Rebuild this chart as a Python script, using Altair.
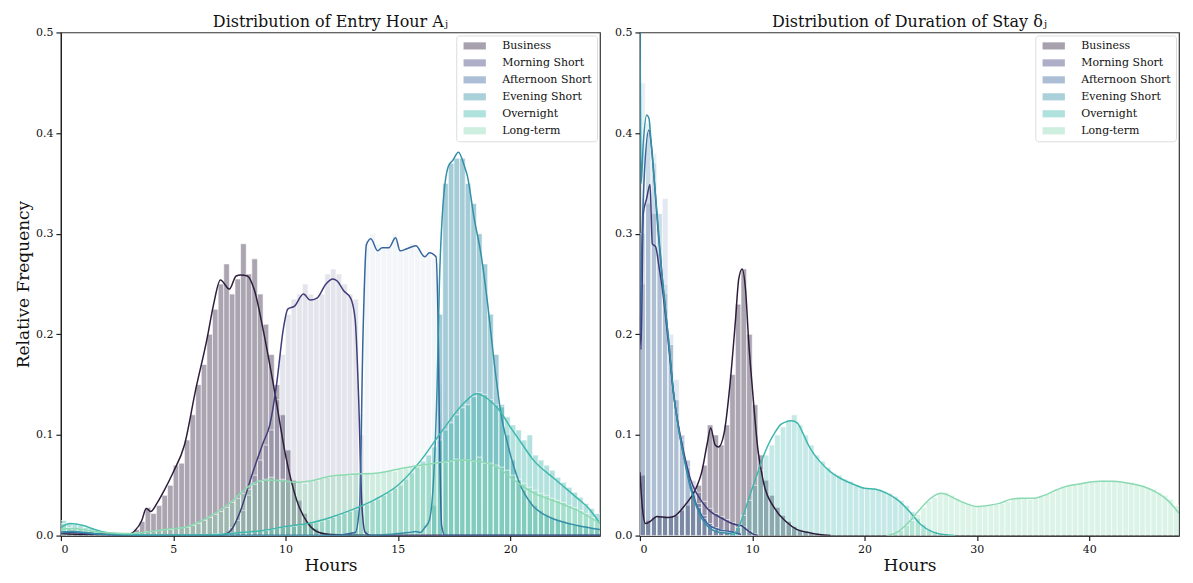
import altair as alt
import pandas as pd

CATS = ["Business", "Morning Short", "Afternoon Short", "Evening Short", "Overnight", "Long-term"]
COLORS = ["#2e1e3b", "#413d7b", "#37659e", "#348fa7", "#40b7ad", "#8bdab2"]
FONT = "DejaVu Serif"

# ---------------- Entry hour: histogram bars (bin width 0.25 h) ----------------
entry_bin = 0.25
entry_bar_start = {"Business": 3.0, "Morning Short": 7.25, "Afternoon Short": 13.25,
                   "Evening Short": 16.5, "Overnight": 0.0, "Long-term": 0.0}
entry_business_bars = [0.002, 0.006, 0.014, 0.028, 0.022, 0.030, 0.040, 0.050, 0.070, 0.072, 0.095, 0.120,
                       0.150, 0.170, 0.200, 0.225, 0.250, 0.270, 0.240, 0.255, 0.290, 0.260, 0.275, 0.240,
                       0.210, 0.180, 0.150, 0.120, 0.085, 0.055, 0.035, 0.022, 0.013, 0.007, 0.003, 0.001]
entry_morning_bars = [0.002, 0.008, 0.015, 0.025, 0.040, 0.060, 0.075, 0.090, 0.105, 0.135, 0.180, 0.220,
                      0.235, 0.240, 0.250, 0.240, 0.235, 0.240, 0.260, 0.265, 0.260, 0.250, 0.240, 0.235,
                      0.100, 0.005]
entry_afternoon_bars = [0.120, 0.290, 0.300, 0.290, 0.285, 0.290, 0.300, 0.285, 0.285, 0.290, 0.285, 0.280,
                        0.280, 0.275, 0.150]
entry_evening_bars = [0.030, 0.220, 0.350, 0.370, 0.375, 0.375, 0.350, 0.330, 0.300, 0.270, 0.220, 0.180,
                      0.130, 0.100, 0.075, 0.055, 0.045, 0.035, 0.030, 0.025, 0.021, 0.018, 0.016, 0.014,
                      0.012, 0.011, 0.010, 0.009, 0.008, 0.007]
entry_overnight_bars = [0.015, 0.012, 0.011, 0.010, 0.008, 0.007, 0.005, 0.004,
                        0.003, 0.002, 0.002, 0.001, 0.001, 0.001, 0.001, 0.001,
                        0.001, 0.001, 0.001, 0.001, 0.001, 0.001, 0.001, 0.001,
                        0.001, 0.001, 0.001, 0.002, 0.002, 0.002, 0.003, 0.003,
                        0.003, 0.004, 0.004, 0.005, 0.005, 0.006, 0.007, 0.008,
                        0.009, 0.009, 0.010, 0.011, 0.012, 0.013, 0.014, 0.016,
                        0.018, 0.020, 0.022, 0.024, 0.026, 0.028, 0.031, 0.034,
                        0.036, 0.040, 0.043, 0.047, 0.050, 0.056, 0.062, 0.068,
                        0.074, 0.080, 0.088, 0.095, 0.105, 0.112, 0.120, 0.127,
                        0.130, 0.138, 0.142, 0.140, 0.135, 0.130, 0.128, 0.118,
                        0.110, 0.105, 0.095, 0.100, 0.080, 0.075, 0.070, 0.065,
                        0.058, 0.053, 0.048, 0.043, 0.038, 0.032, 0.027, 0.022]
entry_longterm_bars = [0.012, 0.008, 0.007, 0.007, 0.006, 0.005, 0.004, 0.004,
                       0.003, 0.003, 0.002, 0.002, 0.002, 0.003, 0.003, 0.004,
                       0.004, 0.005, 0.006, 0.006, 0.007, 0.008, 0.008, 0.010,
                       0.012, 0.015, 0.018, 0.021, 0.024, 0.028, 0.033, 0.037,
                       0.042, 0.046, 0.051, 0.054, 0.056, 0.058, 0.055, 0.056,
                       0.054, 0.053, 0.053, 0.052, 0.054, 0.055, 0.057, 0.058,
                       0.059, 0.060, 0.061, 0.060, 0.062, 0.061, 0.063, 0.062,
                       0.062, 0.064, 0.065, 0.064, 0.066, 0.067, 0.068, 0.069,
                       0.070, 0.071, 0.072, 0.073, 0.073, 0.074, 0.076, 0.075,
                       0.075, 0.074, 0.078, 0.072, 0.072, 0.070, 0.068, 0.065,
                       0.060, 0.056, 0.052, 0.048, 0.045, 0.042, 0.040, 0.037,
                       0.035, 0.033, 0.030, 0.028, 0.025, 0.022, 0.018, 0.014]

# ---------------- Entry hour: KDE curves ----------------
entry_business_kx = [0, 1, 2, 3.0, 3.3, 3.6, 3.8, 4.0, 4.3, 4.6, 5.0, 5.5, 6.0, 6.5, 6.8, 7.1, 7.5, 7.8,
                     8.0, 8.3, 8.6, 9.0, 9.5, 10.0, 10.5, 11.0, 11.5, 12, 14, 18, 24]
entry_business_ky = [0.002, 0.001, 0.001, 0.001, 0.005, 0.015, 0.027, 0.024, 0.033, 0.045, 0.063, 0.090,
                     0.145, 0.195, 0.230, 0.254, 0.245, 0.258, 0.259, 0.258, 0.245, 0.205, 0.145, 0.080,
                     0.035, 0.012, 0.003, 0.001, 0, 0, 0]
entry_morning_kx = [0, 0.5, 1, 2, 4, 7.0, 7.3, 7.6, 8.0, 8.5, 9.0, 9.3, 9.6, 9.9, 10.1, 10.4, 10.8, 11.1,
                    11.4, 11.8, 12.1, 12.3, 12.6, 12.9, 13.1, 13.25, 13.4, 13.55, 13.8, 16, 20, 24]
entry_morning_ky = [0.002, 0.003, 0.002, 0.001, 0, 0, 0.001, 0.006, 0.025, 0.060, 0.092, 0.110, 0.150,
                    0.205, 0.225, 0.228, 0.240, 0.234, 0.236, 0.250, 0.255, 0.253, 0.243, 0.236, 0.215,
                    0.140, 0.030, 0.003, 0, 0, 0, 0]
entry_afternoon_kx = [0, 0.5, 1, 2, 3, 12, 13.1, 13.3, 13.45, 13.6, 13.8, 14.1, 14.3, 14.6, 14.9, 15.1,
                      15.4, 15.8, 16.2, 16.4, 16.7, 16.8, 16.87, 16.95, 17.1, 20, 24]
entry_afternoon_ky = [0.003, 0.004, 0.003, 0.001, 0, 0, 0.003, 0.030, 0.200, 0.289, 0.295, 0.283, 0.286,
                      0.286, 0.296, 0.283, 0.285, 0.288, 0.277, 0.281, 0.277, 0.200, 0.080, 0.010, 0, 0, 0]
entry_evening_kx = [0, 0.5, 1, 2, 4, 13.5, 14.5, 15, 15.5, 15.8, 16.0, 16.2, 16.4, 16.6, 16.75, 16.85,
                    17.0, 17.25, 17.45, 17.7, 17.95, 18.1, 18.4, 18.7, 19.0, 19.3, 19.6, 19.9, 20.4, 21.0,
                    21.5, 22.0, 23.0, 24.0]
entry_evening_ky = [0.003, 0.004, 0.003, 0.001, 0, 0, 0.001, 0.002, 0.003, 0.004, 0.003, 0.008, 0.015,
                    0.060, 0.150, 0.250, 0.325, 0.367, 0.373, 0.381, 0.368, 0.357, 0.315, 0.280, 0.230,
                    0.170, 0.120, 0.090, 0.053, 0.030, 0.021, 0.016, 0.010, 0.006]
entry_overnight_kx = [0, 0.4, 1, 1.5, 2, 3, 5, 7, 8, 9, 10, 11, 12, 13, 14, 15, 16, 17, 18, 18.5, 19,
                      19.5, 20, 20.5, 21, 22, 23, 23.5, 24]
entry_overnight_ky = [0.008, 0.012, 0.010, 0.006, 0.003, 0.001, 0.0005, 0.001, 0.003, 0.005, 0.009,
                      0.012, 0.018, 0.026, 0.036, 0.050, 0.074, 0.105, 0.133, 0.141, 0.136, 0.125, 0.108,
                      0.092, 0.076, 0.056, 0.037, 0.027, 0.012]
entry_longterm_kx = [0, 0.5, 1, 1.5, 2, 3, 4, 5, 5.5, 6, 7, 7.5, 8, 8.5, 9, 9.5, 10, 10.5, 11, 12, 13, 14,
                     15, 16, 17, 17.7, 18.5, 19, 19.5, 20, 20.5, 21, 22, 23, 24]
entry_longterm_ky = [0.006, 0.007, 0.006, 0.004, 0.003, 0.002, 0.004, 0.007, 0.008, 0.012, 0.024, 0.032,
                     0.042, 0.051, 0.055, 0.055, 0.054, 0.053, 0.054, 0.059, 0.061, 0.062, 0.066, 0.070,
                     0.073, 0.075, 0.074, 0.072, 0.067, 0.058, 0.050, 0.043, 0.034, 0.025, 0.012]

# ---------------- Duration of stay: histogram bars (bin width 0.5 h) ----------------
dur_bin = 0.5
dur_bar_start = {"Business": 0.0, "Morning Short": 0.0, "Afternoon Short": 0.0,
                 "Evening Short": 0.0, "Overnight": 8.0, "Long-term": 22.0}
dur_business_bars = [0.060, 0.015, 0.018, 0.019, 0.018, 0.019, 0.020, 0.025, 0.030, 0.040, 0.050, 0.070,
                     0.110, 0.100, 0.090, 0.110, 0.160, 0.230, 0.265, 0.200, 0.130, 0.080, 0.055, 0.040,
                     0.028, 0.020, 0.014, 0.009, 0.006, 0.004, 0.002, 0.001]
dur_morning_bars = [0.250, 0.330, 0.320, 0.280, 0.240, 0.190, 0.135, 0.100, 0.075, 0.055, 0.043, 0.034,
                    0.027, 0.022, 0.019, 0.016, 0.013, 0.011, 0.009, 0.005, 0.002]
dur_afternoon_bars = [0.300, 0.400, 0.370, 0.320, 0.335, 0.200, 0.155, 0.100, 0.075, 0.050, 0.032, 0.020,
                      0.012, 0.008, 0.006, 0.004, 0.003, 0.001]
dur_evening_bars = [0.450, 0.410, 0.380, 0.320, 0.250, 0.190, 0.135, 0.095, 0.068, 0.045, 0.028, 0.017,
                    0.010, 0.006, 0.004, 0.003, 0.002, 0.001]
dur_overnight_bars = [0.002, 0.008, 0.020, 0.035, 0.050, 0.065, 0.080, 0.090, 0.100, 0.108, 0.115, 0.120,
                      0.110, 0.100, 0.090, 0.080, 0.074, 0.068, 0.062, 0.060, 0.056, 0.054, 0.050, 0.048,
                      0.047, 0.047, 0.046, 0.044, 0.042, 0.039, 0.035, 0.030, 0.024, 0.017, 0.011, 0.006,
                      0.004, 0.002, 0.001, 0.0005]
dur_longterm_bars = [0.001, 0.003, 0.005, 0.010, 0.015, 0.021, 0.028, 0.034, 0.038, 0.042, 0.043, 0.040,
                     0.037, 0.034, 0.032, 0.030, 0.029, 0.029, 0.030, 0.031, 0.032, 0.034, 0.037, 0.038,
                     0.037, 0.036, 0.037, 0.039, 0.041, 0.043, 0.046, 0.049, 0.050, 0.051, 0.052, 0.053,
                     0.054, 0.054, 0.055, 0.054, 0.055, 0.054, 0.053, 0.053, 0.051, 0.050, 0.048, 0.046,
                     0.043, 0.040, 0.036, 0.030]

# ---------------- Duration of stay: KDE curves ----------------
dur_business_kx = [0, 0.2, 0.5, 0.9, 1.5, 2.5, 3.0, 4.0, 5.0, 5.5, 6.0, 6.3, 6.7, 7.0, 7.5, 8.0, 8.5, 8.8,
                   9.1, 9.4, 9.7, 10.0, 10.5, 11.0, 12.0, 13.0, 14.0, 15.0, 16.0, 17.0]
dur_business_ky = [0.063, 0.030, 0.012, 0.014, 0.019, 0.018, 0.019, 0.030, 0.047, 0.063, 0.092, 0.107,
                   0.090, 0.088, 0.102, 0.148, 0.213, 0.255, 0.265, 0.245, 0.190, 0.148, 0.086, 0.053,
                   0.027, 0.014, 0.006, 0.003, 0.001, 0]
dur_morning_kx = [0, 0.1, 0.3, 0.6, 0.9, 1.1, 1.4, 1.7, 2.0, 2.5, 3.0, 3.5, 4.0, 4.5, 5.0, 5.5, 6.0, 6.5,
                  7.0, 7.5, 8.0, 8.5, 9.0, 9.5, 10.0, 10.5]
dur_morning_ky = [0.220, 0.185, 0.320, 0.335, 0.349, 0.290, 0.287, 0.267, 0.245, 0.195, 0.140, 0.105,
                  0.078, 0.056, 0.043, 0.034, 0.027, 0.022, 0.019, 0.016, 0.013, 0.011, 0.010, 0.006,
                  0.002, 0]
dur_afternoon_kx = [0, 0.15, 0.4, 0.8, 1.0, 1.3, 1.6, 2.0, 2.5, 3.0, 3.5, 4.0, 4.5, 5.0, 5.5, 6.0, 7.0,
                    8.0, 9.0]
dur_afternoon_ky = [0.200, 0.280, 0.360, 0.403, 0.390, 0.350, 0.305, 0.255, 0.200, 0.142, 0.103, 0.075,
                    0.050, 0.032, 0.020, 0.012, 0.006, 0.004, 0.001]
dur_evening_kx = [0, 0.1, 0.3, 0.6, 0.8, 1.0, 1.3, 1.6, 2.0, 2.5, 3.0, 3.5, 4.0, 4.5, 5.0, 5.5, 6.2, 7.2,
                  8.0, 8.5]
dur_evening_ky = [0.550, 0.350, 0.390, 0.418, 0.415, 0.390, 0.350, 0.310, 0.255, 0.200, 0.141, 0.102,
                  0.073, 0.047, 0.030, 0.017, 0.0075, 0.003, 0.002, 0]
dur_overnight_kx = [8.0, 8.5, 9.0, 9.5, 10.0, 10.5, 11.0, 11.5, 12.0, 12.5, 13.0, 13.5, 14.0, 14.5, 15.0,
                    15.5, 16.0, 17.0, 18.0, 19.0, 20.0, 21.0, 22.0, 23.0, 24.0, 25.0, 26.0, 27.0, 28.0]
dur_overnight_ky = [0, 0.003, 0.014, 0.030, 0.047, 0.063, 0.079, 0.092, 0.102, 0.110, 0.113, 0.114, 0.112,
                    0.102, 0.090, 0.081, 0.074, 0.063, 0.056, 0.051, 0.047, 0.046, 0.042, 0.035, 0.024,
                    0.011, 0.004, 0.001, 0]
dur_longterm_kx = [22, 23, 24, 25, 26, 26.8, 27.5, 28, 29, 30, 31, 32, 33, 34, 35, 36, 37, 38, 39, 40, 41,
                   42, 43, 44, 45, 46, 47, 48]
dur_longterm_ky = [0, 0.004, 0.014, 0.027, 0.038, 0.042, 0.040, 0.037, 0.032, 0.029, 0.030, 0.032, 0.036,
                   0.037, 0.037, 0.040, 0.045, 0.049, 0.051, 0.053, 0.054, 0.054, 0.053, 0.051, 0.048,
                   0.043, 0.035, 0.022]

Y_TICKS = [0.0, 0.1, 0.2, 0.3, 0.4, 0.5]

# bar fill opacity per category (style)
ENTRY_OPACITY = {"Business": 0.4, "Morning Short": 0.14, "Afternoon Short": 0.06,
                 "Evening Short": 0.45, "Overnight": 0.4, "Long-term": 0.35}
DUR_OPACITY = {"Business": 0.4, "Morning Short": 0.2, "Afternoon Short": 0.15,
               "Evening Short": 0.12, "Overnight": 0.3, "Long-term": 0.3}


def bars_table(starts, width, series, opac):
    rows = []
    for cat, vals in zip(CATS, series):
        s0 = starts[cat]
        for i, v in enumerate(vals):
            rows.append({"cat": cat, "start": s0 + i * width, "end": s0 + (i + 1) * width,
                         "value": v, "op": opac[cat]})
    return pd.DataFrame(rows)


def kde_table(xs_list, ys_list):
    rows = []
    for cat, xs, ys in zip(CATS, xs_list, ys_list):
        for x, y in zip(xs, ys):
            rows.append({"cat": cat, "x": x, "y": y})
    return pd.DataFrame(rows)


entry_bars = bars_table(entry_bar_start, entry_bin,
                        [entry_business_bars, entry_morning_bars, entry_afternoon_bars,
                         entry_evening_bars, entry_overnight_bars, entry_longterm_bars], ENTRY_OPACITY)
entry_kde = kde_table(
    [entry_business_kx, entry_morning_kx, entry_afternoon_kx, entry_evening_kx, entry_overnight_kx,
     entry_longterm_kx],
    [entry_business_ky, entry_morning_ky, entry_afternoon_ky, entry_evening_ky, entry_overnight_ky,
     entry_longterm_ky])
dur_bars = bars_table(dur_bar_start, dur_bin,
                      [dur_business_bars, dur_morning_bars, dur_afternoon_bars, dur_evening_bars,
                       dur_overnight_bars, dur_longterm_bars], DUR_OPACITY)
dur_kde = kde_table(
    [dur_business_kx, dur_morning_kx, dur_afternoon_kx, dur_evening_kx, dur_overnight_kx, dur_longterm_kx],
    [dur_business_ky, dur_morning_ky, dur_afternoon_ky, dur_evening_ky, dur_overnight_ky, dur_longterm_ky])


def panel(bars_df, kde_df, xmax, xticks, title, ytitle, W, H):
    xscale = alt.Scale(domain=[0, xmax], nice=False, zero=False)
    yscale = alt.Scale(domain=[0, 0.5], nice=False)
    xaxis = alt.Axis(values=xticks, title="Hours", format="d")
    if ytitle:
        yaxis = alt.Axis(values=Y_TICKS, format=".1f", title=ytitle)
    else:
        yaxis = alt.Axis(values=Y_TICKS, format=".1f", title=None)
    bars = alt.Chart(bars_df).mark_rect(stroke="white", strokeWidth=0.6, clip=True).encode(
        x=alt.X("start:Q", scale=xscale, axis=xaxis),
        x2="end:Q",
        y=alt.Y("value:Q", scale=yscale, axis=yaxis),
        y2=alt.datum(0),
        fill=alt.Fill("cat:N", scale=alt.Scale(domain=CATS, range=COLORS),
                      legend=alt.Legend(title=None, orient="top-right", offset=3,
                                        symbolType="M-2.5,-0.8H2.5V0.8H-2.5Z", symbolSize=80,
                                        symbolOffset=8, symbolOpacity=0.42, symbolStrokeWidth=0,
                                        labelFont=FONT, labelFontSize=11, labelColor="#111",
                                        labelOffset=22, fillColor="white", strokeColor="#dcdcdc",
                                        cornerRadius=3, padding=5, rowPadding=5)),
        fillOpacity=alt.FillOpacity("op:Q", scale=None),
    )
    lines = alt.Chart(kde_df).mark_line(strokeWidth=1.5, clip=True, interpolate="monotone").encode(
        x=alt.X("x:Q", scale=xscale),
        y=alt.Y("y:Q", scale=yscale),
        stroke=alt.Stroke("cat:N", scale=alt.Scale(domain=CATS, range=COLORS), legend=None),
        detail="cat:N",
    )
    return alt.layer(bars, lines).properties(
        width=W, height=H,
        title=alt.TitleParams(title, font=FONT, fontSize=16, fontWeight="normal", color="#111", offset=-4),
    )


left = panel(entry_bars, entry_kde, 24, [0, 5, 10, 15, 20], "Distribution of Entry Hour Aⱼ",
             "Relative Frequency", 540, 504)
right = panel(dur_bars, dur_kde, 48, [0, 10, 20, 30, 40], "Distribution of Duration of Stay δⱼ",
              None, 540, 504)

chart = alt.hconcat(left, right, spacing=12).resolve_scale(
    x="independent", y="independent", fill="independent", stroke="independent"
).resolve_legend(fill="independent").configure_view(
    stroke="#333", strokeWidth=1.2
).configure_axis(
    labelFont=FONT, titleFont=FONT, labelFontSize=11, titleFontSize=17, titleFontWeight="normal",
    labelColor="#111", titleColor="#111", tickColor="#222", domainColor="#222", tickSize=5,
    domainWidth=1.2, tickWidth=1.2, labelPadding=3, titlePadding=3, grid=False
)

chart.save("out.html", embed_options={"renderer": "svg", "actions": False})
